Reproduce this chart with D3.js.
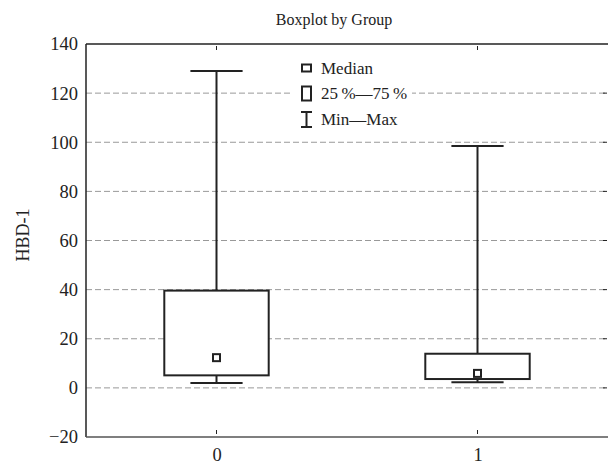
<!DOCTYPE html>
<html>
<head>
<meta charset="utf-8">
<script src="https://cdn.jsdelivr.net/npm/d3@7"></script>
<style>
  body { margin: 0; background: #fff; }
</style>
</head>
<body>
<svg id="chart"></svg>
<script>
// boxplot values
const groups = ['0', '1'];
const mins = [2.0, 2.3];
const q1s = [5.1, 3.6];
const medians = [12.3, 5.9];
const q3s = [39.6, 13.9];
const maxs = [129, 98.5];
const yTicks = [-20, 0, 20, 40, 60, 80, 100, 120, 140];
const gridValues = [0, 20, 40, 60, 80, 100, 120];
const legendLabels = ['Median', '25\u2009%\u201475\u2009%', 'Min\u2014Max'];

function makeChart() {
  let w = 608;
  let h = 466;
  let left = 86, right = 608, top = 44, bottom = 437;
  let ink = '#222';
  let serif = 'Liberation Serif';

  let svg = d3.select('#chart')
    .attr('width', w)
    .attr('height', h);

  let data = groups.map((g, i) => ({
    group: g, min: mins[i], q1: q1s[i], median: medians[i], q3: q3s[i], max: maxs[i]
  }));

  let x = d3.scaleLinear().domain([-0.5, 1.5]).range([left, right]);
  let y = d3.scaleLinear().domain([-20, 140]).range([bottom, top]);

  // grid
  svg.append('g')
    .selectAll('line')
    .data(gridValues)
    .enter()
    .append('line')
    .attr('x1', left)
    .attr('x2', right)
    .attr('y1', (d) => y(d))
    .attr('y2', (d) => y(d))
    .attr('stroke', '#999')
    .attr('stroke-width', 1)
    .attr('stroke-dasharray', '6,3');

  // axes frame
  svg.append('line').attr('x1', left).attr('x2', left).attr('y1', top).attr('y2', bottom)
    .attr('stroke', ink).attr('stroke-width', 1.5);
  svg.append('line').attr('x1', left).attr('x2', right).attr('y1', top).attr('y2', top)
    .attr('stroke', ink).attr('stroke-width', 1.5);
  svg.append('line').attr('x1', left).attr('x2', right).attr('y1', bottom).attr('y2', bottom)
    .attr('stroke', '#555').attr('stroke-width', 1.5);

  let yAxis = d3.axisLeft(y)
    .tickValues(yTicks)
    .tickSize(0)
    .tickPadding(8)
    .tickFormat((d) => d < 0 ? '\u2212' + Math.abs(d) : d);

  let gy = svg.append('g')
    .attr('transform', `translate(${left},0)`)
    .call(yAxis);
  gy.select('.domain').remove();
  gy.selectAll('text')
    .style('font-family', serif)
    .style('font-size', '18.5px')
    .attr('fill', ink);

  let xAxis = d3.axisBottom(x)
    .tickValues([0, 1])
    .tickSize(0)
    .tickPadding(11)
    .tickFormat((d) => groups[d]);

  let gx = svg.append('g')
    .attr('transform', `translate(0,${bottom})`)
    .call(xAxis);
  gx.select('.domain').remove();
  gx.selectAll('text')
    .style('font-family', serif)
    .style('font-size', '18.5px')
    .attr('fill', ink);

  // small inward ticks
  svg.append('g').selectAll('line')
    .data([0, 1])
    .enter()
    .append('line')
    .attr('x1', (d) => x(d)).attr('x2', (d) => x(d))
    .attr('y1', bottom - 7).attr('y2', bottom - 3)
    .attr('stroke', ink);
  svg.append('g').selectAll('line')
    .data([0, 1])
    .enter()
    .append('line')
    .attr('x1', (d) => x(d)).attr('x2', (d) => x(d))
    .attr('y1', top + 2).attr('y2', top + 6)
    .attr('stroke', ink);
  svg.append('g').selectAll('line')
    .data(gridValues)
    .enter()
    .append('line')
    .attr('x1', right - 5).attr('x2', right - 1)
    .attr('y1', (d) => y(d)).attr('y2', (d) => y(d))
    .attr('stroke', ink);

  // boxes
  let bw = x(0.2) - x(0);
  let cw = x(0.1) - x(0);
  let box = svg.append('g')
    .selectAll('g')
    .data(data)
    .enter()
    .append('g');

  box.append('line')
    .attr('x1', (d, i) => x(i)).attr('x2', (d, i) => x(i))
    .attr('y1', (d) => y(d.max)).attr('y2', (d) => y(d.min))
    .attr('stroke', ink).attr('stroke-width', 2);

  box.append('line')
    .attr('x1', (d, i) => x(i) - cw).attr('x2', (d, i) => x(i) + cw)
    .attr('y1', (d) => y(d.max)).attr('y2', (d) => y(d.max))
    .attr('stroke', ink).attr('stroke-width', 2);

  box.append('line')
    .attr('x1', (d, i) => x(i) - cw).attr('x2', (d, i) => x(i) + cw)
    .attr('y1', (d) => y(d.min)).attr('y2', (d) => y(d.min))
    .attr('stroke', ink).attr('stroke-width', 2);

  box.append('rect')
    .attr('x', (d, i) => x(i) - bw)
    .attr('y', (d) => y(d.q3))
    .attr('width', 2 * bw)
    .attr('height', (d) => y(d.q1) - y(d.q3))
    .attr('fill', '#fff')
    .attr('stroke', ink).attr('stroke-width', 2);

  box.append('rect')
    .attr('x', (d, i) => x(i) - 3.5)
    .attr('y', (d) => y(d.median) - 3.5)
    .attr('width', 7)
    .attr('height', 7)
    .attr('fill', '#fff')
    .attr('stroke', ink).attr('stroke-width', 2);

  // legend
  let lx = 301, ly = 68, step = 25.5;
  svg.append('rect')
    .attr('x', 292).attr('y', 55).attr('width', 120).attr('height', 76)
    .attr('fill', '#fff');

  svg.append('rect').attr('x', lx + 1).attr('y', ly - 3.5).attr('width', 9).attr('height', 7)
    .attr('fill', 'none').attr('stroke', ink).attr('stroke-width', 2);
  svg.append('rect').attr('x', lx + 1).attr('y', ly + step - 7).attr('width', 9).attr('height', 14)
    .attr('fill', 'none').attr('stroke', ink).attr('stroke-width', 2);
  let my = ly + 2 * step;
  svg.append('line').attr('x1', lx + 5.5).attr('x2', lx + 5.5).attr('y1', my - 7).attr('y2', my + 8)
    .attr('stroke', ink).attr('stroke-width', 2);
  svg.append('line').attr('x1', lx).attr('x2', lx + 11).attr('y1', my - 7).attr('y2', my - 7)
    .attr('stroke', ink).attr('stroke-width', 2);
  svg.append('line').attr('x1', lx).attr('x2', lx + 11).attr('y1', my + 8).attr('y2', my + 8)
    .attr('stroke', ink).attr('stroke-width', 2);

  svg.append('g').selectAll('text')
    .data(legendLabels)
    .enter()
    .append('text')
    .attr('x', lx + 20)
    .attr('y', (d, i) => ly + i * step)
    .attr('dy', '0.35em')
    .attr('fill', ink)
    .style('font-family', serif)
    .style('font-size', '17px')
    .text((d) => d);

  // titles
  svg.append('text')
    .attr('x', 334)
    .attr('y', 25)
    .attr('fill', ink)
    .style('text-anchor', 'middle')
    .style('font-family', serif)
    .style('font-size', '16px')
    .text('Boxplot by Group');

  svg.append('text')
    .attr('transform', `translate(29, 235) rotate(-90)`)
    .attr('fill', ink)
    .style('text-anchor', 'middle')
    .style('font-family', serif)
    .style('font-size', '18px')
    .text('HBD-1');
}

makeChart();
</script>
</body>
</html>
